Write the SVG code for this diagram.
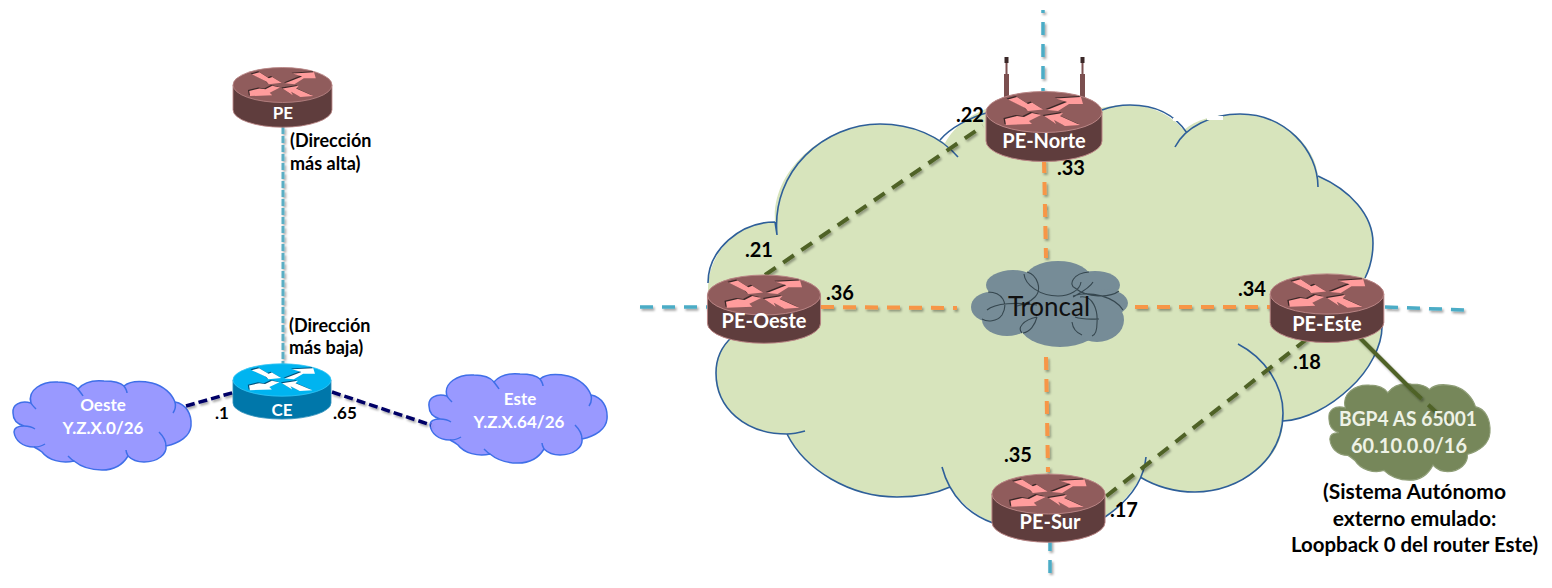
<svg xmlns="http://www.w3.org/2000/svg" width="1552" height="588" viewBox="0 0 1552 588">
<style>
text{font-family:"Lato","Noto Sans","Liberation Sans",sans-serif;font-weight:700}
.w{fill:#fff}.k{fill:#000}.m{text-anchor:middle}
.n{font-size:17px}.b{font-size:18px}.l{font-size:20px}.r{font-size:20px}.s{font-size:21px}
.c{fill:none;stroke-linecap:butt}
.teal{stroke:#4bacc6;stroke-width:3.5;stroke-dasharray:13 9}
.tealf{stroke:#5aaec4;stroke-width:3;stroke-dasharray:7 2}
.org{stroke:#f79646;stroke-width:4;stroke-dasharray:13 9}
.olv{stroke:#4f6228;stroke-width:4;stroke-dasharray:13 9}
.nav{stroke:#000066;stroke-width:3.5;stroke-dasharray:9 4}
.edge{fill:none;stroke:#2e5f99;stroke-width:1.6}
.top{fill:#905c5c;stroke:#b98585;stroke-width:1}
.side{fill:#5f3d3d;stroke:#b98585;stroke-width:1}
.topb{fill:#00b4f0;stroke:#33c4f4;stroke-width:1}
.sideb{fill:#0077aa;stroke:#3392bb;stroke-width:1}
.aw{fill:#ff9c9c}.as{fill:#3b2828}
.awb{fill:#fff}.asb{fill:#00507a}
.lobe{fill:none;stroke:#36474f;stroke-width:1.1}
.cl{fill:#9999ff;stroke:#3f6fe8;stroke-width:1.5}
.clt{fill:none;stroke:#3f6fe8;stroke-width:1.5}
.ant{fill:#7b4f4f}
</style>
<defs>
<filter id="sh" x="0" y="0" width="1552" height="588" filterUnits="userSpaceOnUse"><feDropShadow dx="1.5" dy="2" stdDeviation="1.2" flood-color="#000" flood-opacity="0.35"/></filter>
<path id="body" d="M-58,0 L-58,29 A58,20.5 0 0 0 58,29 L58,0 Z"/>
<ellipse id="disc" cx="0" cy="0" rx="58" ry="20.5"/>
<path id="arrows" d="M-36,-12.500 L-27,-15 L-16,-8 L-12,-9.500 L-1,-2.500 L-16,-1 L-19,-4 Z M3,-2 L23,-10 L12,-13.500 L37,-15 L39,-8 L25,-8 L14,-1 Z M-39,7 L-27,4 L-20,5 L-12,1 L-3,3 L-15,9 L-12,12 L-38,13 Z M0,4 L19,1 L16,4 L36,13 L21,14 L10,8 L12,12 Z"/>
<path id="cloud" d="M1,33 C0,25 8,20 19,23 C15,10 30,1 46,2 C54,2 62,4 66,9 C72,2 82,0 92,1 C100,1 108,2 112,6 C118,1 130,1 140,3 C152,6 160,14 163,22 C174,24 180,34 179,46 C178,56 168,63 154,66 C155,74 146,82 132,82 C125,82 120,80 116,76 C110,86 100,90 90,90 C78,90 68,86 62,81 C50,84 36,80 30,72 C26,69 24,68 22,67 C10,67 3,60 2,52 C2,48 6,46 12,46 C5,44 1,40 1,33 Z"/>
<path id="tails" d="M66,9 C68,12 70,14 71,16 M112,6 C114,9 115,11 115,13 M163,22 C164,26 163,30 161,33 M154,66 C154,62 151,56 147,52 M116,76 C115,74 114,72 114,70 M62,81 C60,80 58,78 56,76 M22,67 C26,67 30,66 33,64 M12,46 C16,46 20,47 23,49 M19,23 C20,25 22,27 24,29"/>
</defs>

<g id="backbone-cloud">
<path fill="#d7e4bc" d="M708,290 C708,250 740,222 775,222 C771,170 825,124 880,124 C905,124 928,132 945,143 C955,125 975,110 1000,105 L1100,108 C1110,106 1120,105 1130,105 C1152,105 1172,116 1184,130 C1195,120 1215,114 1240,114 C1282,114 1315,145 1318,176 C1350,190 1373,215 1373,243 C1373,257 1370,268 1365,278 L1382,300 L1382,327 C1382,345 1370,370 1350,388 C1330,407 1305,420 1283,421 C1283,460 1240,492 1195,492 C1175,492 1155,486 1140,477 C1135,490 1120,505 1105,517 L1048,530 L993,523 C975,515 960,503 950,487 C935,494 915,497 897,497 C850,497 805,470 787,434 C745,434 716,408 716,373 C716,358 722,346 732,337 Z"/>
<path class="edge" d="M708,283 C708,250 740,222 775,222 M775,222 L777,235 M777,235 C771,170 825,124 880,124 C912,124 940,136 958,157 M940,140 C950,128 970,117 990,112 M1102,110 C1110,107 1120,105 1130,105 C1155,105 1175,115 1187,133 M1175,147 C1185,127 1212,114 1240,114 C1285,114 1318,150 1318,187 M1318,176 C1350,190 1373,215 1373,243 C1373,257 1370,268 1365,278 M1382,327 C1382,345 1370,370 1350,388 C1330,407 1305,420 1283,421 M1238,344 C1265,358 1283,385 1283,413 C1283,460 1240,492 1195,492 C1175,492 1155,486 1140,477 M1146,457 C1144,480 1130,500 1105,517 M993,523 C970,515 950,497 942,467 M950,487 C935,494 915,497 897,497 C850,497 805,470 787,434 M805,431 C798,433 792,434 787,434 C745,434 716,408 716,373 C716,358 722,346 732,337 M768,340 L778,340"/>
<rect x="1173" y="118" width="8" height="3" fill="#fff"/>
<rect x="1207" y="116" width="16" height="4" fill="#fff"/>
</g>

<g id="node-troncal">
<g fill="#768c97">
<ellipse cx="1058" cy="279" rx="33" ry="18"/>
<ellipse cx="1013" cy="285" rx="27" ry="15"/>
<ellipse cx="1095" cy="285" rx="25" ry="14"/>
<ellipse cx="990" cy="307" rx="19" ry="15"/>
<ellipse cx="1103" cy="303" rx="25" ry="14"/>
<ellipse cx="1007" cy="320" rx="25" ry="16"/>
<ellipse cx="1060" cy="325" rx="40" ry="22"/>
<ellipse cx="1097" cy="320" rx="27" ry="22"/>
<rect x="1000" y="285" width="100" height="40"/>
</g>
<path class="lobe" d="M1024,274 C1025,285 1040,296 1058,296 C1070,296 1080,290 1081,282 M1027,272 C1038,275 1042,290 1035,297 C1030,302 1022,305 1017,306 M1089,272 C1073,273 1068,285 1075,288 C1087,298 1110,298 1119,291 M1093,282 C1090,288 1080,293 1073,297 M1073,296 C1090,290 1115,297 1123,310 M1080,297 C1093,295 1098,310 1097,323 C1097,330 1095,335 1092,336 M988,292 C1002,292 1009,303 1002,315 C997,322 987,322 982,319 M987,310 C995,303 1017,302 1037,305 M1072,322 C1073,330 1077,333 1082,335 M1075,317 C1083,320 1092,319 1099,319 M1037,317 C1023,320 1017,328 1022,333 M1037,317 C1035,325 1030,332 1023,333"/>
<text x="1049" y="316" class="k m" style="font-size:26px;font-weight:400;fill:#111">Troncal</text>
</g>

<g id="node-bgp">
<use href="#cloud" transform="translate(1328,383) scale(.905,1.08)" fill="#76875a" stroke="#8e9d76" stroke-width="1.2"/>
</g>
<g id="node-oeste-net">
<use href="#cloud" transform="translate(12,380)" class="cl"/>
<use href="#tails" transform="translate(12,380)" class="clt"/>
<text x="103" y="411" class="w m n">Oeste</text>
<text x="103" y="434" class="w m n">Y.Z.X.0/26</text>
</g>
<g id="node-este-net">
<use href="#cloud" transform="translate(428,373)" class="cl"/>
<use href="#tails" transform="translate(428,373)" class="clt"/>
<text x="520" y="405" class="w m n">Este</text>
<text x="519" y="428" class="w m n">Y.Z.X.64/26</text>
</g>

<g id="connectors" filter="url(#sh)">
<line class="c tealf" x1="283" y1="127" x2="283" y2="364"/>
<line class="c nav" x1="186" y1="406" x2="235" y2="392"/>
<line class="c nav" x1="332" y1="392" x2="431" y2="425"/>
<line class="c teal" x1="1043" y1="10" x2="1043" y2="92" stroke-dashoffset="10"/>
<line class="c teal" x1="1050" y1="538" x2="1050" y2="578"/>
<line class="c teal" x1="640" y1="307" x2="708" y2="307"/>
<line class="c teal" x1="1385" y1="307" x2="1466" y2="310"/>
<line class="c org" x1="1044" y1="160" x2="1046" y2="258"/>
<line class="c org" x1="1046" y1="357" x2="1048" y2="472"/>
<line class="c org" x1="821" y1="307" x2="957" y2="308"/>
<line class="c org" x1="1135" y1="307" x2="1270" y2="307"/>
<line class="c olv" x1="765" y1="275" x2="983" y2="126"/>
<line class="c olv" x1="1307" y1="339" x2="1095" y2="505"/>
<line class="c" stroke="#4f6228" stroke-width="4" x1="1355" y1="333" x2="1412" y2="390"/>
<line class="c olv" x1="1412" y1="390" x2="1447" y2="422"/>
</g>

<g id="node-bgp-label">
<text x="1408" y="426" class="w m" textLength="138" lengthAdjust="spacingAndGlyphs" style="font-size:21px;fill:#eef2e6">BGP4 AS 65001</text>
<text x="1409" y="453" class="w m" textLength="116" lengthAdjust="spacingAndGlyphs" style="font-size:21px;fill:#eef2e6">60.10.0.0/16</text>
</g>

<g id="node-pe">
<g transform="translate(282.5,85) scale(.853)"><use href="#body" class="side"/><use href="#disc" class="top"/><use href="#arrows" class="as" x="-1.500" y="-1"/><use href="#arrows" class="aw"/></g>
<text x="283" y="119" class="w m n">PE</text>
</g>
<g id="node-ce">
<g transform="translate(282,380) scale(.845,.79)"><use href="#body" class="sideb"/><use href="#disc" class="topb"/><use href="#arrows" class="asb" x="-1.500" y="-1"/><use href="#arrows" class="awb"/></g>
<text x="282" y="416" class="w m n">CE</text>
</g>
<g id="node-pe-norte">
<g class="ant"><rect x="1004" y="74" width="5" height="26"/><rect x="1005.500" y="63" width="2" height="11"/><rect x="1080" y="74" width="5" height="26"/><rect x="1081.500" y="63" width="2" height="11"/><rect x="1004.500" y="57" width="4" height="6" fill="#3b2828"/><rect x="1080.500" y="57" width="4" height="6" fill="#3b2828"/></g>
<g transform="translate(1044,112)"><use href="#body" class="side"/><use href="#disc" class="top"/><use href="#arrows" class="as" x="-1.500" y="-1"/><use href="#arrows" class="aw"/></g>
<text x="1044" y="148" class="w m r">PE-Norte</text>
</g>
<g id="node-pe-oeste">
<g transform="translate(764,295) scale(.975)"><use href="#body" class="side"/><use href="#disc" class="top"/><use href="#arrows" class="as" x="-1.500" y="-1"/><use href="#arrows" class="aw"/></g>
<text x="764" y="328" class="w m r">PE-Oeste</text>
</g>
<g id="node-pe-sur">
<g transform="translate(1048.500,494) scale(.975)"><use href="#body" class="side"/><use href="#disc" class="top"/><use href="#arrows" class="as" x="-1.500" y="-1"/><use href="#arrows" class="aw"/></g>
<text x="1050" y="529" class="w m r">PE-Sur</text>
</g>
<g id="node-pe-este">
<g transform="translate(1327,294) scale(.98)"><use href="#body" class="side"/><use href="#disc" class="top"/><use href="#arrows" class="as" x="-1.500" y="-1"/><use href="#arrows" class="aw"/></g>
<text x="1327" y="331" class="w m r">PE-Este</text>
</g>

<g id="labels">
<text x="290" y="147" class="k b">(Dirección</text>
<text x="290" y="170" class="k b">más alta)</text>
<text x="289" y="332" class="k b">(Dirección</text>
<text x="289" y="354" class="k b">más baja)</text>
<text x="215" y="419" class="k n">.1</text>
<text x="333" y="419" class="k n">.65</text>
<text x="956" y="122" class="k l">.22</text>
<text x="745" y="257" class="k l">.21</text>
<text x="1057" y="175" class="k l">.33</text>
<text x="826" y="300" class="k l">.36</text>
<text x="1238" y="296" class="k l">.34</text>
<text x="1293" y="369" class="k l">.18</text>
<text x="1110" y="517" class="k l">.17</text>
<text x="1004" y="462" class="k l">.35</text>
<text x="1414.500" y="499" class="k m s">(Sistema Autónomo</text>
<text x="1414.500" y="526" class="k m s">externo emulado:</text>
<text x="1414.500" y="552" class="k m s" textLength="247" lengthAdjust="spacingAndGlyphs">Loopback 0 del router Este)</text>
</g>
</svg>
